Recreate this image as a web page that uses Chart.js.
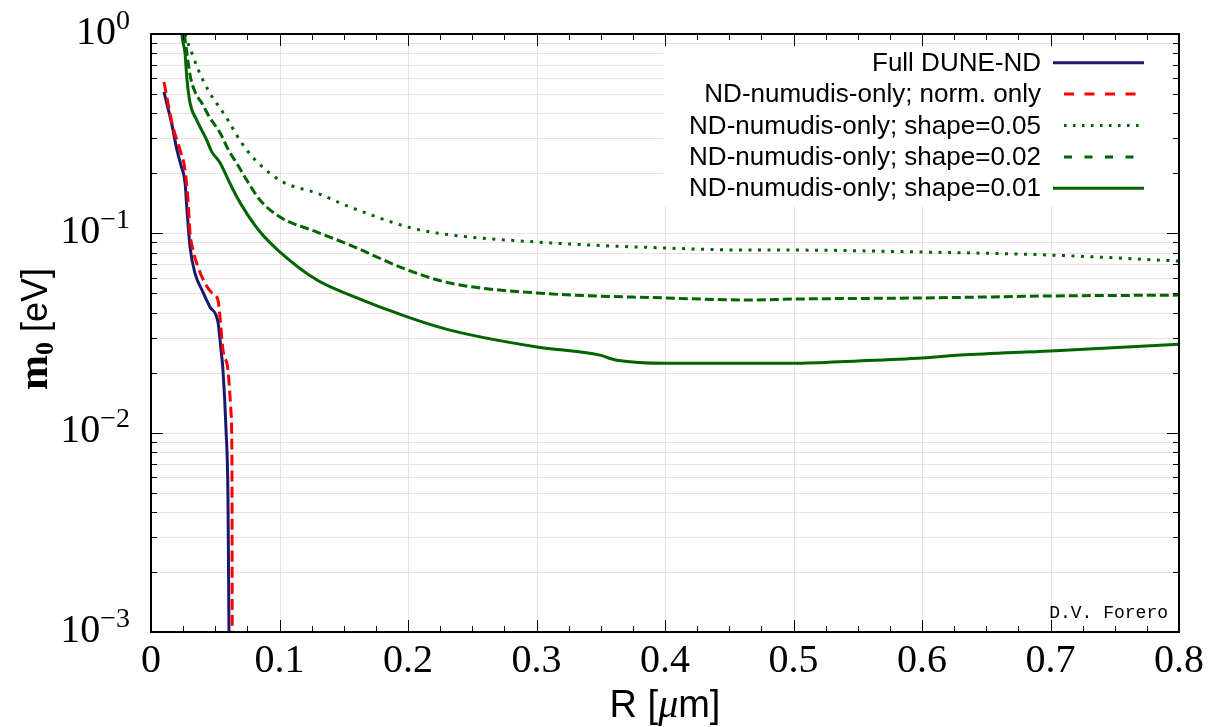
<!DOCTYPE html>
<html><head><meta charset="utf-8">
<script src="https://cdn.jsdelivr.net/npm/chart.js@4.4.1/dist/chart.umd.min.js"></script>
<style>html,body{margin:0;padding:0;background:#fff;}#wrap{width:1209px;height:727px;}</style>
</head><body><div id="wrap"><canvas id="c" width="1209" height="727"></canvas></div>
<script>
// ---------- data ----------
const seriesNames = ['Full DUNE-ND','ND-numudis-only; norm. only','ND-numudis-only; shape=0.05','ND-numudis-only; shape=0.02','ND-numudis-only; shape=0.01'];

const rFull = [0.0101,0.0132,0.0163,0.0202,0.0233,0.0265,0.0280,0.0304,0.0342,0.0397,0.0459,0.0521,0.0545,0.0560,0.0584,0.0599,0.0603,0.0607];
const mFull = [0.512,0.425,0.350,0.262,0.220,0.179,0.131,0.0853,0.0632,0.0519,0.0427,0.0359,0.0260,0.0206,0.0103,0.00475,0.00222,0.00093];

const rNorm = [0.0101,0.0132,0.0171,0.0226,0.0265,0.0288,0.0304,0.0327,0.0366,0.0420,0.0475,0.0521,0.0537,0.0560,0.0599,0.0623,0.0630,0.0632];
const mNorm = [0.574,0.451,0.341,0.262,0.208,0.147,0.1003,0.0824,0.0677,0.0563,0.0502,0.0463,0.0380,0.0260,0.0206,0.01254,0.00704,0.00093];

const rS05 = [0.0265,0.0278,0.0304,0.0368,0.0459,0.0537,0.0599,0.0667,0.0745,0.0835,0.1027,0.1292,0.1549,0.2000,0.2226,0.3004,0.4000,0.4660,0.5000,0.6000,0.7000,0.8000];
const mS05 = [1.0,0.933,0.848,0.660,0.504,0.425,0.370,0.311,0.262,0.225,0.181,0.159,0.1355,0.1075,0.1003,0.0904,0.0844,0.0824,0.0824,0.0806,0.0778,0.0726];

const rS02 = [0.0259,0.0278,0.0304,0.0342,0.0395,0.0459,0.0537,0.0602,0.0667,0.0745,0.0848,0.1004,0.1292,0.1549,0.2000,0.2327,0.3004,0.4000,0.4660,0.5000,0.6000,0.7000,0.8000];
const mS02 = [1.0,0.815,0.623,0.513,0.451,0.379,0.320,0.262,0.225,0.185,0.147,0.1207,0.1015,0.0873,0.0654,0.0563,0.0502,0.0474,0.0463,0.0468,0.0474,0.0485,0.0490];

const rS01 = [0.0239,0.0249,0.0265,0.0278,0.0304,0.0356,0.0433,0.0472,0.0537,0.0602,0.0667,0.0745,0.0848,0.1004,0.1292,0.1549,0.2000,0.2327,0.3004,0.3494,0.3560,0.3626,0.4000,0.4660,0.5000,0.5500,0.6000,0.6300,0.7000,0.8000];
const mS01 = [1.0,0.912,0.800,0.610,0.451,0.370,0.294,0.257,0.226,0.185,0.1527,0.126,0.1019,0.0806,0.0583,0.0490,0.0380,0.0327,0.0269,0.0245,0.0237,0.0231,0.0223,0.0223,0.0223,0.0229,0.0237,0.0245,0.0257,0.0278];

const xTickValues = [0,0.1,0.2,0.3,0.4,0.5,0.6,0.7,0.8];
const xTickLabels = ['0','0.1','0.2','0.3','0.4','0.5','0.6','0.7','0.8'];
const yTickValues = [1,0.1,0.01,0.001];
const yTickExponents = ['0','\u22121','\u22122','\u22123'];
const watermark = 'D.V. Forero';

// ---------- styles ----------
const colors = ['#191970','#ff0000','#006400','#006400','#006400'];
const dashes = [[],[11,5],[3,6.5],[9,4],[]];
const legendDashes = [[],[10,10.5],[2.5,6.5],[8,12.5],[]];
const legendStart = [1053,1064,1064,1064,1053];

const pts = (xs, ys) => xs.map((x, i) => ({x, y: ys[i]}));
const allX = [rFull, rNorm, rS05, rS02, rS01];
const allY = [mFull, mNorm, mS05, mS02, mS01];

const datasets = seriesNames.map((name, i) => ({
  label: name,
  data: pts(allX[i], allY[i]),
  borderColor: colors[i],
  borderWidth: 3,
  borderDash: dashes[i],
  borderCapStyle: 'butt',
  pointRadius: 0,
  fill: false,
  cubicInterpolationMode: 'monotone',
  order: i === 1 ? 0 : i + 1
}));

function drawRun(ctx, parts, x, y, align) {
  let w = 0;
  parts.forEach(p => { ctx.font = p.font; p.w = ctx.measureText(p.text).width; w += p.w; });
  let cx = align === 'center' ? x - w / 2 : (align === 'right' ? x - w : x);
  ctx.textAlign = 'left';
  ctx.textBaseline = 'alphabetic';
  parts.forEach(p => { ctx.font = p.font; ctx.fillText(p.text, cx, y + (p.dy || 0)); cx += p.w; });
}

const decor = {
  id: 'decor',
  beforeDatasetsDraw(chart) {
    const {ctx, chartArea: a, scales: {x: xs, y: ys}} = chart;
    ctx.save();
    ctx.strokeStyle = '#efdfe5';
    ctx.lineWidth = 1;
    ctx.beginPath();
    xTickValues.forEach(v => {
      if (v <= 0 || v >= 0.8) return;
      const px = Math.round(xs.getPixelForValue(v)) + 0.5;
      ctx.moveTo(px, a.top); ctx.lineTo(px, a.bottom);
    });
    for (let k = -3; k < 0; k++) {
      for (let m = 1; m <= 9; m++) {
        const v = m * Math.pow(10, k);
        if (k === -3 && m === 1) continue;
        const py = Math.round(ys.getPixelForValue(v)) + 0.5;
        ctx.moveTo(a.left, py); ctx.lineTo(a.right, py);
      }
    }
    ctx.stroke();
    // legend box background
    ctx.fillStyle = '#ffffff';
    ctx.fillRect(663, 47, 1170 - 663, 206 - 47);
    ctx.restore();
  },
  afterDatasetsDraw(chart) {
    const {ctx, chartArea: a, scales: {x: xs, y: ys}} = chart;
    ctx.save();
    // ticks (inward)
    ctx.strokeStyle = '#000';
    ctx.lineWidth = 1;
    ctx.beginPath();
    for (let i = 0; i <= 32; i++) {
      const v = i * 0.025;
      const px = Math.round(xs.getPixelForValue(v)) + 0.5;
      const L = (i % 4 === 0) ? 12 : 6;
      ctx.moveTo(px, a.bottom); ctx.lineTo(px, a.bottom - L);
      ctx.moveTo(px, a.top); ctx.lineTo(px, a.top + L);
    }
    for (let k = -3; k <= 0; k++) {
      for (let m = 1; m <= 9; m++) {
        if (k === 0 && m > 1) break;
        const v = m * Math.pow(10, k);
        const py = Math.round(ys.getPixelForValue(v)) + 0.5;
        const L = m === 1 ? 12 : 6;
        ctx.moveTo(a.left, py); ctx.lineTo(a.left + L, py);
        ctx.moveTo(a.right, py); ctx.lineTo(a.right - L, py);
      }
    }
    ctx.stroke();
    // border
    ctx.lineWidth = 2;
    ctx.strokeRect(a.left, a.top, a.right - a.left, a.bottom - a.top);

    ctx.fillStyle = '#000';
    // x tick labels
    ctx.font = '40px "Liberation Serif"';
    ctx.textAlign = 'center';
    ctx.textBaseline = 'alphabetic';
    xTickValues.forEach((v, i) => {
      ctx.fillText(xTickLabels[i], xs.getPixelForValue(v), 672);
    });
    // y tick labels 10^k
    yTickValues.forEach((v, i) => {
      const py = ys.getPixelForValue(v);
      drawRun(ctx, [
        {text: '10', font: '40px "Liberation Serif"'},
        {text: yTickExponents[i], font: '28px "Liberation Serif"', dy: -15}
      ], 130, py + 9.5, 'right');
    });
    // axis titles
    drawRun(ctx, [
      {text: 'R [', font: '38px "Liberation Sans"'},
      {text: '\u03bc', font: 'italic 40px "Liberation Serif"'},
      {text: 'm]', font: '38px "Liberation Sans"'}
    ], 665, 717, 'center');
    ctx.save();
    ctx.translate(47, 329);
    ctx.rotate(-Math.PI / 2);
    drawRun(ctx, [
      {text: 'm', font: 'bold 42px "Liberation Serif"'},
      {text: '0', font: 'bold 26px "Liberation Serif"', dy: 6},
      {text: ' [eV]', font: '36px "Liberation Sans"'}
    ], 0, 0, 'center');
    ctx.restore();

    // legend entries
    chart.data.datasets.forEach((ds, i) => {
      const yRow = 62.7 + i * 31.4;
      ctx.fillStyle = '#000';
      ctx.font = '26px "Liberation Sans"';
      ctx.textAlign = 'right';
      ctx.textBaseline = 'middle';
      ctx.fillText(ds.label, 1041, yRow + 1);
      ctx.strokeStyle = ds.borderColor;
      ctx.lineWidth = 3;
      ctx.setLineDash(legendDashes[i]);
      ctx.lineCap = 'butt';
      ctx.beginPath();
      ctx.moveTo(legendStart[i], yRow); ctx.lineTo(1144, yRow);
      ctx.stroke();
      ctx.setLineDash([]);
    });

    // watermark
    ctx.fillStyle = '#000';
    ctx.font = '18px "Liberation Mono"';
    ctx.textAlign = 'right';
    ctx.textBaseline = 'alphabetic';
    ctx.fillText(watermark, 1168, 618);
    ctx.restore();
  }
};

new Chart(document.getElementById('c'), {
  type: 'line',
  data: {datasets},
  options: {
    responsive: false,
    animation: false,
    layout: {padding: {left: 151, right: 30, top: 34, bottom: 95}},
    scales: {
      x: {type: 'linear', min: 0, max: 0.8, display: false},
      y: {type: 'logarithmic', min: 0.001, max: 1, display: false}
    },
    plugins: {legend: {display: false}, tooltip: {enabled: false}},
    elements: {point: {radius: 0}}
  },
  plugins: [decor]
});
</script></body></html>
